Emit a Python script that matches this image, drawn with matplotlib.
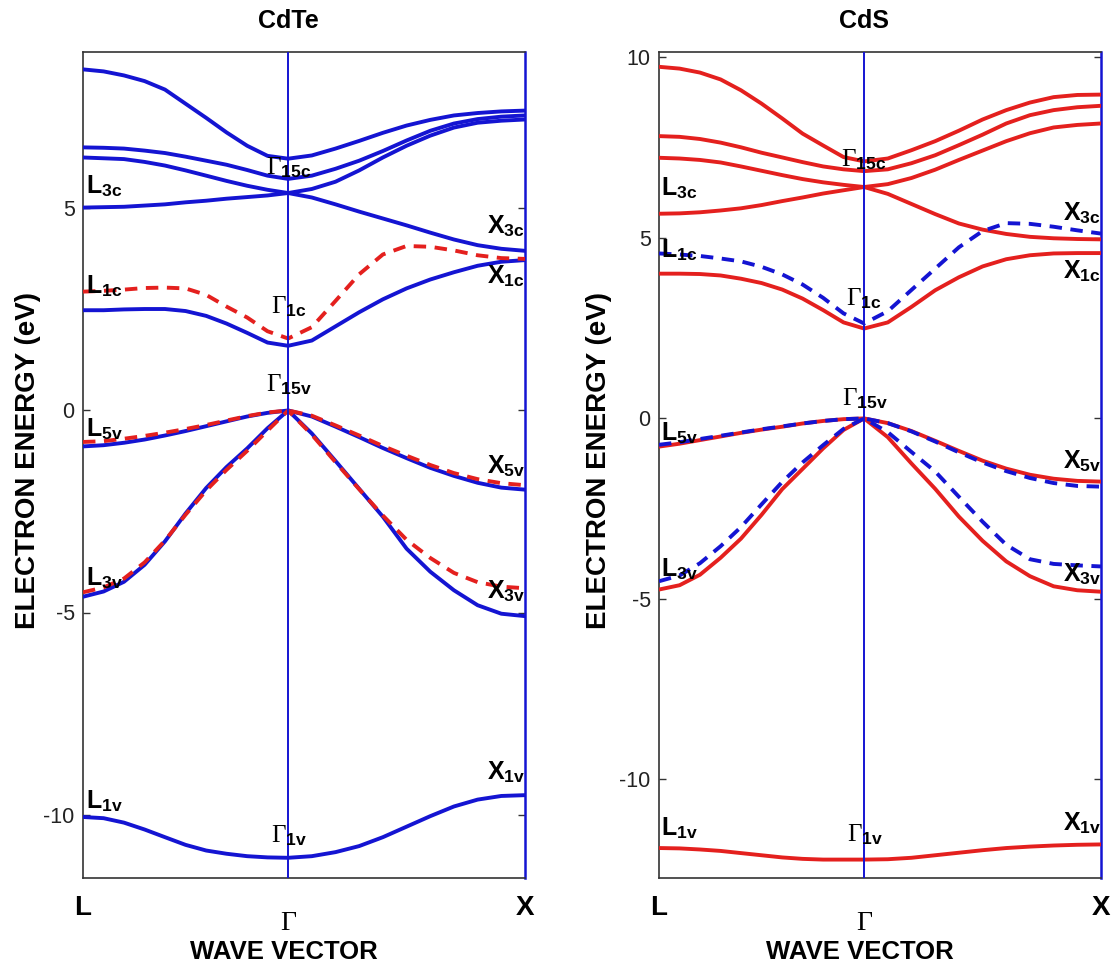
"""Band structures of CdTe and CdS along L-Gamma-X."""

import matplotlib

matplotlib.use("Agg")
import matplotlib.pyplot as plt
import matplotlib.transforms as mtransforms

plt.rcParams["font.family"] = ["Liberation Sans", "DejaVu Sans"]
plt.rcParams["mathtext.fontset"] = "custom"
plt.rcParams["mathtext.rm"] = "Liberation Serif"
plt.rcParams["mathtext.bf"] = "Liberation Sans:bold"
plt.rcParams["mathtext.it"] = "Liberation Serif:italic"

# wave vector along L -> Gamma -> X (|L-Gamma| = 0.866, |Gamma-X| = 1)
K_PATH = [0.0, 0.087, 0.173, 0.26, 0.346, 0.433, 0.52, 0.606, 0.693, 0.779, 0.866,
          0.966, 1.066, 1.166, 1.266, 1.366, 1.466, 1.566, 1.666, 1.766, 1.866]
K_GAMMA = 0.866
K_X = 1.866

# CdTe, solid bands (eV)
CDTE_C4 = [8.44, 8.39, 8.29, 8.15, 7.94, 7.59, 7.24, 6.88, 6.55, 6.30, 6.23,
           6.31, 6.48, 6.67, 6.87, 7.05, 7.19, 7.30, 7.36, 7.40, 7.42]
CDTE_C3 = [6.51, 6.50, 6.48, 6.43, 6.37, 6.28, 6.18, 6.08, 5.95, 5.81, 5.73,
           5.81, 5.98, 6.18, 6.42, 6.68, 6.92, 7.10, 7.21, 7.27, 7.30]
CDTE_C2 = [6.26, 6.24, 6.22, 6.15, 6.06, 5.94, 5.81, 5.68, 5.56, 5.46, 5.38,
           5.48, 5.66, 5.94, 6.26, 6.55, 6.80, 7.00, 7.12, 7.17, 7.20]
CDTE_C1 = [5.02, 5.03, 5.04, 5.07, 5.10, 5.15, 5.19, 5.24, 5.28, 5.32, 5.38,
           5.27, 5.10, 4.92, 4.75, 4.58, 4.40, 4.23, 4.09, 4.00, 3.95]
CDTE_C0 = [2.48, 2.48, 2.50, 2.51, 2.51, 2.46, 2.34, 2.15, 1.92, 1.68, 1.60,
           1.73, 2.08, 2.43, 2.75, 3.02, 3.24, 3.42, 3.58, 3.68, 3.72]
CDTE_V1 = [-0.89, -0.86, -0.80, -0.72, -0.62, -0.51, -0.39, -0.27, -0.15, -0.06, 0.0,
           -0.15, -0.40, -0.66, -0.93, -1.18, -1.42, -1.62, -1.79, -1.91, -1.96]
CDTE_V2 = [-4.61, -4.48, -4.24, -3.82, -3.24, -2.55, -1.92, -1.40, -0.94, -0.44, 0.0,
           -0.57, -1.25, -1.94, -2.63, -3.42, -3.99, -4.45, -4.82, -5.03, -5.09]
CDTE_V3 = [-10.06, -10.09, -10.20, -10.37, -10.56, -10.75, -10.89, -10.97, -11.03, -11.06, -11.07,
           -11.03, -10.93, -10.78, -10.56, -10.30, -10.04, -9.80, -9.63, -9.54, -9.52]

# CdTe, dashed comparison bands (eV)
CDTE_REF_C0 = [2.94, 2.96, 2.99, 3.03, 3.04, 3.02, 2.86, 2.57, 2.30, 1.96, 1.78,
               2.06, 2.71, 3.37, 3.86, 4.07, 4.05, 3.96, 3.84, 3.77, 3.75]
CDTE_REF_V1 = [-0.78, -0.76, -0.70, -0.63, -0.55, -0.46, -0.36, -0.25, -0.14, -0.05, 0.0,
               -0.13, -0.37, -0.62, -0.88, -1.12, -1.35, -1.55, -1.70, -1.80, -1.85]
CDTE_REF_V2 = [-4.50, -4.38, -4.16, -3.76, -3.22, -2.58, -1.98, -1.47, -1.00, -0.50, 0.0,
               -0.60, -1.28, -1.95, -2.60, -3.20, -3.65, -4.02, -4.25, -4.36, -4.40]

# CdS, solid bands (eV)
CDS_C4 = [9.74, 9.69, 9.58, 9.39, 9.09, 8.72, 8.31, 7.89, 7.56, 7.24, 7.12,
          7.20, 7.43, 7.68, 7.97, 8.28, 8.54, 8.75, 8.90, 8.96, 8.97]
CDS_C3 = [7.82, 7.80, 7.74, 7.64, 7.51, 7.36, 7.23, 7.10, 6.98, 6.90, 6.85,
          6.90, 7.07, 7.29, 7.57, 7.86, 8.17, 8.40, 8.54, 8.62, 8.66]
CDS_C2 = [7.22, 7.20, 7.16, 7.09, 6.98, 6.86, 6.74, 6.63, 6.54, 6.47, 6.41,
          6.49, 6.66, 6.89, 7.16, 7.42, 7.68, 7.90, 8.06, 8.13, 8.17]
CDS_C1 = [5.67, 5.68, 5.71, 5.76, 5.82, 5.91, 6.02, 6.12, 6.23, 6.32, 6.41,
          6.22, 5.94, 5.66, 5.40, 5.23, 5.11, 5.03, 4.99, 4.97, 4.96]
CDS_C0 = [4.01, 4.01, 4.00, 3.96, 3.87, 3.75, 3.57, 3.32, 3.00, 2.66, 2.49,
          2.66, 3.09, 3.55, 3.91, 4.21, 4.41, 4.52, 4.57, 4.58, 4.58]
CDS_V1 = [-0.78, -0.70, -0.60, -0.50, -0.40, -0.31, -0.23, -0.14, -0.07, -0.02, 0.0,
          -0.13, -0.35, -0.62, -0.90, -1.17, -1.39, -1.56, -1.67, -1.73, -1.75]
CDS_V2 = [-4.74, -4.62, -4.33, -3.86, -3.33, -2.67, -1.96, -1.40, -0.83, -0.32, 0.0,
          -0.52, -1.25, -1.95, -2.72, -3.39, -3.96, -4.37, -4.65, -4.76, -4.80]
CDS_V3 = [-11.90, -11.91, -11.94, -11.98, -12.04, -12.10, -12.16, -12.20, -12.22, -12.22, -12.22,
          -12.21, -12.17, -12.10, -12.03, -11.96, -11.90, -11.86, -11.83, -11.81, -11.80]

# CdS, dashed comparison bands (eV)
CDS_REF_C0 = [4.57, 4.54, 4.50, 4.43, 4.35, 4.20, 3.99, 3.71, 3.34, 2.91, 2.63,
              2.97, 3.56, 4.15, 4.74, 5.19, 5.41, 5.39, 5.31, 5.21, 5.12]
CDS_REF_V1 = [-0.73, -0.66, -0.57, -0.48, -0.39, -0.30, -0.22, -0.14, -0.07, -0.02, 0.0,
              -0.13, -0.36, -0.64, -0.94, -1.22, -1.46, -1.65, -1.79, -1.87, -1.89]
CDS_REF_V2 = [-4.51, -4.35, -4.01, -3.54, -3.01, -2.38, -1.76, -1.22, -0.74, -0.29, 0.0,
              -0.38, -0.93, -1.47, -2.17, -2.86, -3.50, -3.90, -4.03, -4.07, -4.10]

# symmetry-point labels: letter, subscript, k, energy
CDTE_LABELS = [
    ("L", "3c", 0.013, 5.38), ("\\Gamma", "15c", 0.771, 5.83), ("X", "3c", K_X, 4.38),
    ("L", "1c", 0.013, 2.90), ("\\Gamma", "1c", 0.795, 2.40), ("X", "1c", K_X, 3.14),
    ("\\Gamma", "15v", 0.771, 0.47), ("L", "5v", 0.013, -0.65), ("X", "5v", K_X, -1.56),
    ("L", "3v", 0.013, -4.33), ("X", "3v", K_X, -4.66),
    ("L", "1v", 0.013, -9.86), ("\\Gamma", "1v", 0.794, -10.69), ("X", "1v", K_X, -9.12),
]
CDS_LABELS = [
    ("L", "3c", 0.01, 6.18), ("\\Gamma", "15c", 0.767, 6.97), ("X", "3c", K_X, 5.49),
    ("L", "1c", 0.01, 4.47), ("\\Gamma", "1c", 0.788, 3.13), ("X", "1c", K_X, 3.87),
    ("\\Gamma", "15v", 0.773, 0.37), ("L", "5v", 0.01, -0.60), ("X", "5v", K_X, -1.38),
    ("L", "3v", 0.01, -4.38), ("X", "3v", K_X, -4.52),
    ("L", "1v", 0.01, -11.54), ("\\Gamma", "1v", 0.794, -11.72), ("X", "1v", K_X, -11.40),
]

BLUE = "#1414d2"
RED = "#e4201e"
LINE_W = 2.8
DASHES = (3.2, 2.2)


def label_text(letter, sub):
    if letter.startswith("\\"):
        return rf"$\mathrm{{{letter}}}_{{\mathbf{{{sub}}}}}$"
    return rf"$\mathbf{{{letter}}}_{{\mathbf{{{sub}}}}}$"


def draw_panel(ax, title, solid_bands, ref_bands, solid_color, ref_color,
               labels, ylim, yticks, ylabel_x):
    for band in solid_bands:
        ax.plot(K_PATH, band, color=solid_color, lw=LINE_W, solid_joinstyle="round", zorder=3)
    for band in ref_bands:
        ax.plot(K_PATH, band, color=ref_color, lw=LINE_W, dashes=DASHES, zorder=4)

    ax.axvline(K_GAMMA, color=BLUE, lw=1.4, zorder=5)
    ax.set_xlim(0, K_X)
    ax.set_ylim(*ylim)
    ax.set_yticks(yticks)
    ax.set_yticklabels([str(t) for t in yticks], fontsize=15.5, color="#222222")
    ax.set_xticks([])
    ax.tick_params(axis="y", direction="in", length=5, width=1, left=True, right=True,
                   pad=6, color="#333333")

    for side in ("left", "top", "bottom"):
        ax.spines[side].set_color("#333333")
        ax.spines[side].set_linewidth(1.2)
    ax.spines["right"].set_color(BLUE)
    ax.spines["right"].set_linewidth(1.8)

    for letter, sub, k, e in labels:
        ha = "right" if k >= K_X else "left"
        ax.text(k, e, label_text(letter, sub), fontsize=18, ha=ha, va="baseline", zorder=6)

    trans = mtransforms.blended_transform_factory(ax.transData, ax.transAxes)
    ax.text(0, -0.036, "L", transform=trans, ha="center", va="center",
            fontsize=20, fontweight="bold")
    ax.text(K_X, -0.036, "X", transform=trans, ha="center", va="center",
            fontsize=20, fontweight="bold")
    ax.text(K_GAMMA, -0.055, r"$\mathrm{\Gamma}$", transform=trans, ha="center",
            va="center", fontsize=20)
    ax.text(K_GAMMA, 1.038, title, transform=trans, ha="center", va="center",
            fontsize=18, fontweight="bold")

    ax.set_xlabel("WAVE VECTOR", fontsize=18.5, fontweight="bold", va="center")
    ax.xaxis.set_label_coords(0.455, -0.09)
    ax.set_ylabel("ELECTRON ENERGY (eV)", fontsize=20, fontweight="bold",
                  va="center", ha="center")
    ax.yaxis.set_label_coords(ylabel_x, 0.505)


fig = plt.figure(figsize=(11.19, 9.66), dpi=100)
ax_cdte = fig.add_axes([83 / 1119, 1 - 878 / 966, 442 / 1119, 826 / 966])
ax_cds = fig.add_axes([659 / 1119, 1 - 878 / 966, 442 / 1119, 826 / 966])

draw_panel(ax_cdte, "CdTe",
           [CDTE_C4, CDTE_C3, CDTE_C2, CDTE_C1, CDTE_C0, CDTE_V1, CDTE_V2, CDTE_V3],
           [CDTE_REF_C0, CDTE_REF_V1, CDTE_REF_V2],
           BLUE, RED, CDTE_LABELS, (-11.57, 8.87), [-10, -5, 0, 5], -0.125)
draw_panel(ax_cds, "CdS",
           [CDS_C4, CDS_C3, CDS_C2, CDS_C1, CDS_C0, CDS_V1, CDS_V2, CDS_V3],
           [CDS_REF_C0, CDS_REF_V1, CDS_REF_V2],
           RED, BLUE, CDS_LABELS, (-12.73, 10.15), [-10, -5, 0, 5, 10], -0.135)

fig.savefig("out.png", dpi=100)
